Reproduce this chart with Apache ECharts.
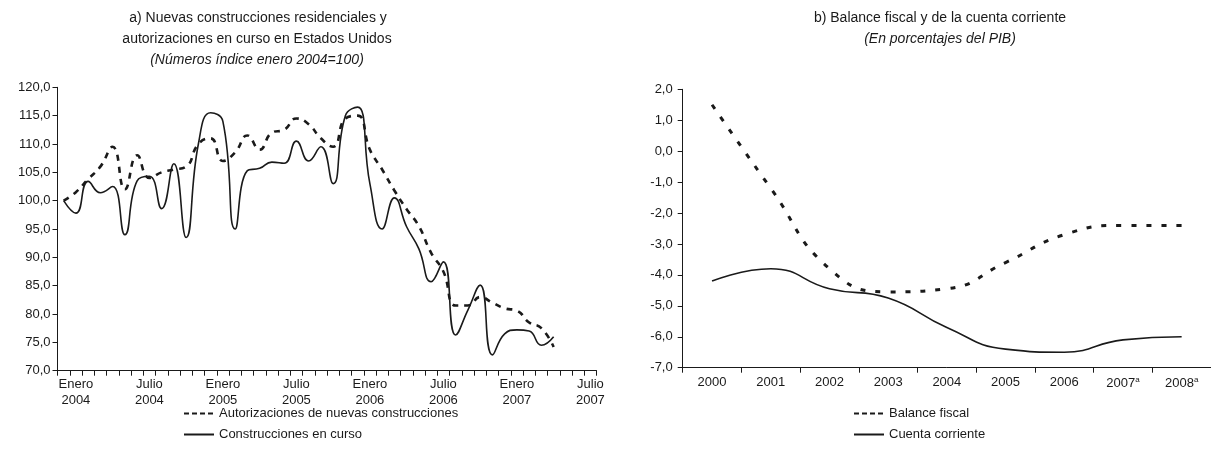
<!DOCTYPE html>
<html>
<head>
<meta charset="utf-8">
<script src="https://cdn.jsdelivr.net/npm/echarts@6/dist/echarts.min.js"></script>
<style>
  html, body { margin: 0; padding: 0; background: #fff; }
  #chart { width: 1211px; height: 467px; }
</style>
</head>
<body>
<div id="chart"></div>
<script>
// panel a) monthly index, Jan 2004 = 100
var autorizaciones = [100, 101.5, 103.8, 106, 109.5, 102, 108, 104, 105, 105.5, 106, 110, 111, 107, 108.5, 111.5, 109, 112, 112.5, 114.5, 113.5, 111, 109.5, 114.5, 115, 109, 105.5, 101.8, 98.5, 95.5, 90.8, 87.5, 81.5, 81.5, 83, 82, 81, 80.6, 78.5, 77.5, 74.2];
var construcciones = [100, 97.8, 103.4, 101.4, 102.5, 94, 103.5, 104.3, 98.6, 106.5, 93.5, 110, 115.5, 114, 95, 105.3, 105.7, 106.8, 106.6, 110.5, 107, 109.5, 103, 115, 116.5, 103, 95, 100.5, 95.4, 91.5, 85.7, 89.2, 76.3, 80.7, 85.1, 72.8, 76.5, 77.2, 77, 74.5, 76];
var monthLabels = ['Enero\n2004', 'Julio\n2004', 'Enero\n2005', 'Julio\n2005', 'Enero\n2006', 'Julio\n2006', 'Enero\n2007', 'Julio\n2007'];
var monthSlots = 44;

// panel b) percent of GDP
var years = ['2000', '2001', '2002', '2003', '2004', '2005', '2006', '2007a', '2008a'];
var balanceFiscal = [1.5, -1.2, -3.8, -4.55, -4.45, -3.6, -2.7, -2.4, -2.4];
var cuentaCorriente = [-4.2, -3.8, -4.45, -4.75, -5.7, -6.4, -6.5, -6.1, -6.0];

var months = [];
for (var i = 0; i < monthSlots; i++) months.push('m' + i);

var ink = '#1a1a1a';
var font = 'Liberation Sans';
var comma = function (v) { return v.toFixed(1).replace('.', ','); };

var chart = echarts.init(document.getElementById('chart'), null, { renderer: 'canvas' });

var axisBase = {
  axisLine: { show: true, onZero: false, lineStyle: { color: ink, width: 1 } },
  axisTick: { show: true, length: 5, lineStyle: { color: ink, width: 1 } },
  splitLine: { show: false }
};

var legendBase = {
  orient: 'vertical', itemWidth: 30, itemHeight: 14, itemGap: 8,
  itemStyle: { opacity: 0 },
  textStyle: { fontSize: 13, color: ink, fontFamily: font }
};
var legendDash = { type: [5, 3], width: 2 };

var option = {
  animation: false,
  backgroundColor: '#fff',
  textStyle: { fontFamily: font, color: ink },
  graphic: [
    { type: 'text', x: 258, y: 18, style: { text: 'a) Nuevas construcciones residenciales y', align: 'center', verticalAlign: 'middle', fontSize: 14, fontFamily: font, fill: ink } },
    { type: 'text', x: 257, y: 39, style: { text: 'autorizaciones en curso en Estados Unidos', align: 'center', verticalAlign: 'middle', fontSize: 14, fontFamily: font, fill: ink } },
    { type: 'text', x: 257, y: 60, style: { text: '(Números índice enero 2004=100)', align: 'center', verticalAlign: 'middle', fontSize: 14, fontStyle: 'italic', fontFamily: font, fill: ink } },
    { type: 'text', x: 940, y: 18, style: { text: 'b) Balance fiscal y de la cuenta corriente', align: 'center', verticalAlign: 'middle', fontSize: 14, fontFamily: font, fill: ink } },
    { type: 'text', x: 940, y: 39, style: { text: '(En porcentajes del PIB)', align: 'center', verticalAlign: 'middle', fontSize: 14, fontStyle: 'italic', fontFamily: font, fill: ink } }
  ],
  legend: [
    Object.assign({}, legendBase, {
      left: 178, top: 402,
      data: [
        { name: 'Autorizaciones de nuevas construcciones', lineStyle: legendDash },
        { name: 'Construcciones en curso' }
      ]
    }),
    Object.assign({}, legendBase, {
      left: 848, top: 402,
      data: [
        { name: 'Balance fiscal', lineStyle: legendDash },
        { name: 'Cuenta corriente' }
      ]
    })
  ],
  grid: [
    { left: 57.5, top: 87.3, width: 539, height: 283.4, containLabel: false },
    { left: 682.7, top: 89.3, width: 533.7, height: 278.4, containLabel: false }
  ],
  xAxis: [
    Object.assign({}, axisBase, {
      gridIndex: 0, type: 'category', data: months, boundaryGap: true,
      axisTick: { show: true, length: 5, interval: 0, lineStyle: { color: ink, width: 1 } },
      axisLabel: {
        interval: function (idx) { return idx % 6 === 1; },
        formatter: function (val, idx) { return monthLabels[(idx - 1) / 6] || ''; },
        fontSize: 13, color: ink, lineHeight: 16, margin: 6, fontFamily: font
      }
    }),
    Object.assign({}, axisBase, {
      gridIndex: 1, type: 'category', data: years, boundaryGap: true,
      axisLabel: {
        interval: 0, margin: 8, fontSize: 13, color: ink, fontFamily: font,
        formatter: function (val) {
          return val.slice(-1) === 'a' ? val.slice(0, 4) + '{sup|a}' : val;
        },
        rich: { sup: { fontSize: 8, verticalAlign: 'top', padding: [0, 0, 8, 0], color: ink, fontFamily: font } }
      }
    })
  ],
  yAxis: [
    Object.assign({}, axisBase, {
      gridIndex: 0, type: 'value', min: 70, max: 120, interval: 5,
      axisLabel: { formatter: comma, fontSize: 13, color: ink, margin: 7, fontFamily: font }
    }),
    Object.assign({}, axisBase, {
      gridIndex: 1, type: 'value', min: -7, max: 2, interval: 1,
      axisLabel: { formatter: comma, fontSize: 13, color: ink, margin: 10, fontFamily: font }
    })
  ],
  series: [
    {
      name: 'Autorizaciones de nuevas construcciones', type: 'line', xAxisIndex: 0, yAxisIndex: 0,
      data: autorizaciones, smooth: true, symbol: 'none',
      lineStyle: { color: ink, width: 2.6, type: [6, 6] }, itemStyle: { color: ink }
    },
    {
      name: 'Construcciones en curso', type: 'line', xAxisIndex: 0, yAxisIndex: 0,
      data: construcciones, smooth: true, symbol: 'none',
      lineStyle: { color: ink, width: 1.6 }, itemStyle: { color: ink }
    },
    {
      name: 'Balance fiscal', type: 'line', xAxisIndex: 1, yAxisIndex: 1,
      data: balanceFiscal, smooth: true, symbol: 'none',
      lineStyle: { color: ink, width: 3, type: [5, 10] }, itemStyle: { color: ink }
    },
    {
      name: 'Cuenta corriente', type: 'line', xAxisIndex: 1, yAxisIndex: 1,
      data: cuentaCorriente, smooth: true, symbol: 'none',
      lineStyle: { color: ink, width: 1.6 }, itemStyle: { color: ink }
    }
  ]
};

chart.setOption(option);
</script>
</body>
</html>
